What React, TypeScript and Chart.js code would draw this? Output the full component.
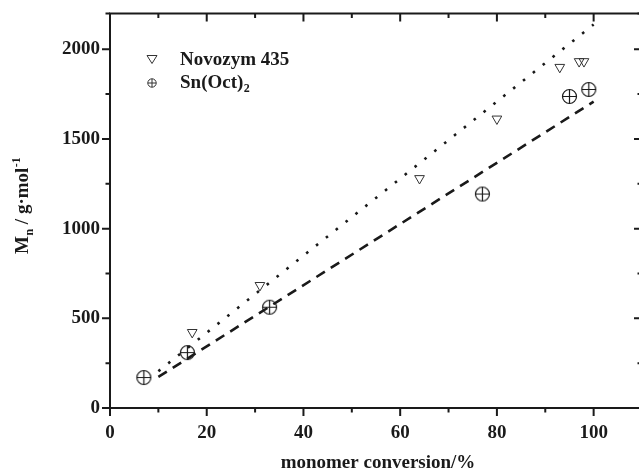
import React, { useEffect, useRef } from 'react';
import { Chart, registerables } from 'chart.js';

Chart.register(...registerables);

// ---- data ----
const novozymConversion = [17, 31, 64, 80, 93, 97, 98];
const novozymMn = [422, 684, 1280, 1612, 1900, 1932, 1932];
const snConversion = [7, 16, 33, 77, 95, 99];
const snMn = [170, 309, 562, 1193, 1737, 1776];
const novozymFitX = [10, 100];
const novozymFitY = [205, 2138];
const snFitX = [10, 100];
const snFitY = [173, 1708];
const xTicks = [0, 20, 40, 60, 80, 100];
const yTicks = [0, 500, 1000, 1500, 2000];
const xMinorTicks = [10, 30, 50, 70, 90, 110];
const yMinorTicks = [250, 750, 1250, 1750, 2200];
const legendLabels = ['Novozym 435', 'Sn(Oct)'];
const legendSubscript = '2';
const xTitle = 'monomer conversion/%';

const FONT = '"Liberation Serif", "Times New Roman", serif';
const INK = '#1a1a1a';

function makeCirclePlus(r: number, lw: number): HTMLCanvasElement {
  const size = Math.ceil(r * 2 + lw * 2 + 2);
  const c = document.createElement('canvas');
  c.width = size;
  c.height = size;
  const ctx = c.getContext('2d')!;
  const m = size / 2;
  ctx.strokeStyle = INK;
  ctx.lineWidth = lw;
  ctx.beginPath();
  ctx.arc(m, m, r, 0, Math.PI * 2);
  ctx.stroke();
  ctx.beginPath();
  ctx.moveTo(m - r, m);
  ctx.lineTo(m + r, m);
  ctx.moveTo(m, m - r);
  ctx.lineTo(m, m + r);
  ctx.stroke();
  return c;
}

const framePlugin = {
  id: 'frameTicks',
  afterDraw(chart: any) {
    const ctx = chart.ctx as CanvasRenderingContext2D;
    const { left, right, top, bottom } = chart.chartArea;
    const xs = chart.scales.x;
    const ys = chart.scales.y;
    ctx.save();
    ctx.strokeStyle = INK;
    ctx.lineWidth = 2;
    ctx.lineCap = 'butt';
    // frame
    ctx.beginPath();
    ctx.rect(left, top, right - left, bottom - top);
    ctx.stroke();
    const major = 8;
    const minor = 4.5;
    ctx.beginPath();
    xTicks.forEach((v) => {
      const px = xs.getPixelForValue(v);
      ctx.moveTo(px, bottom);
      ctx.lineTo(px, bottom + major);
      ctx.moveTo(px, top);
      ctx.lineTo(px, top + major);
    });
    xMinorTicks.forEach((v) => {
      const px = xs.getPixelForValue(v);
      ctx.moveTo(px, bottom);
      ctx.lineTo(px, bottom + minor);
      ctx.moveTo(px, top);
      ctx.lineTo(px, top + minor);
    });
    yTicks.forEach((v) => {
      const py = ys.getPixelForValue(v);
      ctx.moveTo(left, py);
      ctx.lineTo(left - major, py);
      ctx.moveTo(right, py);
      ctx.lineTo(right - major, py);
    });
    yMinorTicks.forEach((v) => {
      const py = ys.getPixelForValue(v);
      ctx.moveTo(left, py);
      ctx.lineTo(left - minor, py);
      ctx.moveTo(right, py);
      ctx.lineTo(right - minor, py);
    });
    ctx.stroke();

    // legend
    ctx.lineWidth = 1;
    ctx.strokeStyle = '#333';
    const tx = 152;
    const ty = 59;
    ctx.beginPath();
    ctx.moveTo(tx - 5, ty - 3.5);
    ctx.lineTo(tx + 5, ty - 3.5);
    ctx.lineTo(tx, ty + 4.5);
    ctx.closePath();
    ctx.stroke();
    const cx = 152;
    const cy = 83;
    const cr = 4.2;
    ctx.beginPath();
    ctx.arc(cx, cy, cr, 0, Math.PI * 2);
    ctx.moveTo(cx - cr, cy);
    ctx.lineTo(cx + cr, cy);
    ctx.moveTo(cx, cy - cr);
    ctx.lineTo(cx, cy + cr);
    ctx.stroke();

    ctx.fillStyle = INK;
    ctx.textBaseline = 'alphabetic';
    ctx.textAlign = 'left';
    ctx.font = `bold 19px ${FONT}`;
    ctx.fillText(legendLabels[0], 180, 65);
    ctx.fillText(legendLabels[1], 180, 88);
    const w1 = ctx.measureText(legendLabels[1]).width;
    ctx.font = `bold 12px ${FONT}`;
    ctx.fillText(legendSubscript, 180 + w1 + 0.5, 92);

    // x axis title
    ctx.font = `bold 19px ${FONT}`;
    ctx.textAlign = 'center';
    ctx.fillText(xTitle, 378, 468);
    ctx.textAlign = 'left';

    // y axis title (rotated)
    ctx.translate(28, 254);
    ctx.rotate(-Math.PI / 2);
    let x = 0;
    ctx.font = `bold 19px ${FONT}`;
    ctx.fillText('M', x, 0);
    x += ctx.measureText('M').width;
    ctx.font = `bold 12px ${FONT}`;
    ctx.fillText('n', x + 0.5, 5);
    x += ctx.measureText('n').width + 0.5;
    ctx.font = `bold 19px ${FONT}`;
    const mid = ' / g\u00B7mol';
    ctx.fillText(mid, x, 0);
    x += ctx.measureText(mid).width;
    ctx.font = `bold 12px ${FONT}`;
    ctx.fillText('-1', x + 0.5, -8);
    ctx.restore();
  },
};

export default function App() {
  const ref = useRef<HTMLCanvasElement | null>(null);

  useEffect(() => {
    if (!ref.current) return;
    const circlePlus = makeCirclePlus(7, 1.2);
    const chart = new Chart(ref.current, {
      type: 'scatter',
      data: {
        datasets: [
          {
            label: 'Novozym 435 fit',
            data: novozymFitX.map((v, i) => ({ x: v, y: novozymFitY[i] })),
            showLine: true,
            borderColor: INK,
            borderWidth: 2.6,
            borderDash: [2.6, 10],
            borderCapStyle: 'butt',
            pointRadius: 0,
            fill: false,
          },
          {
            label: 'Sn(Oct)2 fit',
            data: snFitX.map((v, i) => ({ x: v, y: snFitY[i] })),
            showLine: true,
            borderColor: INK,
            borderWidth: 2.6,
            borderDash: [10, 7],
            pointRadius: 0,
            fill: false,
          },
          {
            label: legendLabels[0],
            data: novozymConversion.map((v, i) => ({ x: v, y: novozymMn[i] })),
            pointStyle: 'triangle',
            rotation: 180,
            pointRadius: 5.6,
            borderColor: '#333',
            borderWidth: 1,
            backgroundColor: 'rgba(0,0,0,0)',
          } as any,
          {
            label: 'Sn(Oct)2',
            data: snConversion.map((v, i) => ({ x: v, y: snMn[i] })),
            pointStyle: circlePlus,
            pointRadius: 7,
            borderColor: INK,
            backgroundColor: 'rgba(0,0,0,0)',
          },
        ],
      },
      options: {
        animation: false,
        responsive: false,
        devicePixelRatio: 1,
        layout: { padding: { top: 13, right: 5, left: 0, bottom: 0 } },
        plugins: {
          legend: { display: false },
          tooltip: { enabled: false },
        },
        scales: {
          x: {
            type: 'linear',
            min: 0,
            max: 110,
            grid: { display: false },
            border: { display: false },
            afterBuildTicks: (scale: any) => {
              scale.ticks = xTicks.map((v) => ({ value: v }));
            },
            afterFit: (scale: any) => {
              scale.height = 63;
            },
            ticks: {
              padding: 6,
              color: INK,
              font: { family: FONT, size: 19, weight: 'bold' },
              maxRotation: 0,
              callback: (v: any) => String(v),
            },
          },
          y: {
            type: 'linear',
            min: 0,
            max: 2200,
            grid: { display: false },
            border: { display: false },
            afterBuildTicks: (scale: any) => {
              scale.ticks = yTicks.map((v) => ({ value: v }));
            },
            afterFit: (scale: any) => {
              scale.width = 110;
            },
            ticks: {
              padding: 2,
              color: INK,
              font: { family: FONT, size: 19, weight: 'bold' },
              callback: (v: any) => String(v),
            },
          },
        },
      },
      plugins: [framePlugin],
    } as any);
    return () => chart.destroy();
  }, []);

  return (
    <div
      style={{
        position: 'absolute',
        left: 0,
        top: 0,
        width: 639,
        height: 471,
        overflow: 'hidden',
        background: '#fff',
      }}
    >
      <canvas ref={ref} width={650} height={471} style={{ display: 'block', width: 650, height: 471 }} />
    </div>
  );
}
